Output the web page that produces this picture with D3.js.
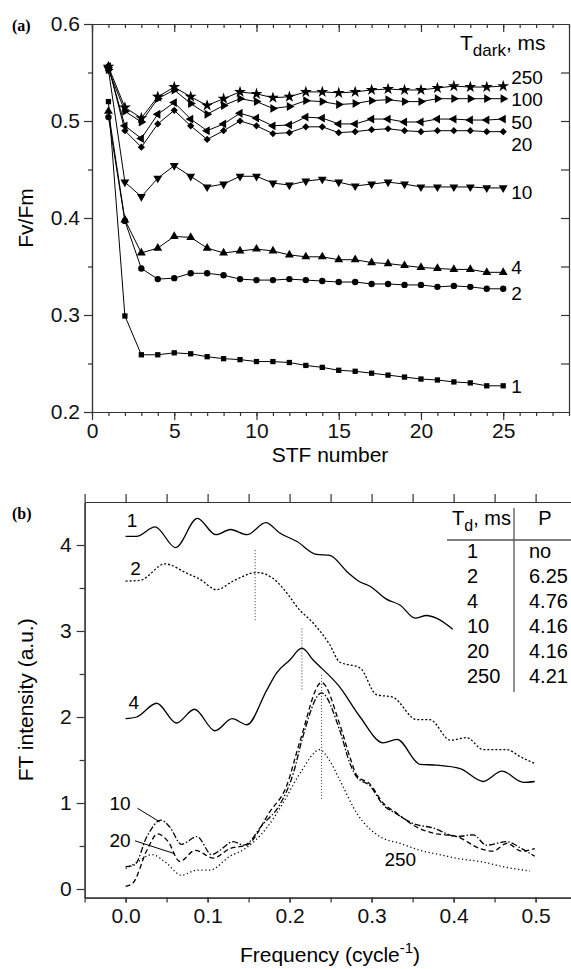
<!DOCTYPE html>
<html>
<head>
<meta charset="utf-8">
<script src="https://cdn.jsdelivr.net/npm/d3@7"></script>
<style>
  body { margin: 0; background: #fff; }
  svg { display: block; font-family: "Liberation Sans", Arial, sans-serif; }
</style>
</head>
<body>
<svg id="chart" width="571" height="969"></svg>
<script>
// ---------- panel (a): Fv/Fm vs STF number ----------
const stfNumbers = [1, 2, 3, 4, 5, 6, 7, 8, 9, 10, 11, 12, 13, 14, 15, 16, 17, 18, 19, 20, 21, 22, 23, 24, 25];
const darkTimes = ['1', '2', '4', '10', '20', '50', '100', '250'];
const fv1   = [0.520, 0.299, 0.259, 0.259, 0.261, 0.260, 0.257, 0.255, 0.254, 0.252, 0.252, 0.251, 0.248, 0.246, 0.243, 0.242, 0.240, 0.238, 0.236, 0.234, 0.233, 0.231, 0.230, 0.227, 0.227];
const fv2   = [0.504, 0.397, 0.348, 0.337, 0.338, 0.343, 0.343, 0.341, 0.337, 0.336, 0.336, 0.337, 0.336, 0.335, 0.334, 0.334, 0.332, 0.332, 0.331, 0.331, 0.329, 0.330, 0.329, 0.327, 0.327];
const fv4   = [0.510, 0.398, 0.364, 0.369, 0.381, 0.380, 0.369, 0.364, 0.366, 0.368, 0.366, 0.362, 0.360, 0.360, 0.357, 0.357, 0.354, 0.353, 0.351, 0.349, 0.348, 0.347, 0.347, 0.344, 0.344];
const fv10  = [0.553, 0.437, 0.422, 0.441, 0.454, 0.443, 0.432, 0.435, 0.443, 0.443, 0.436, 0.434, 0.438, 0.440, 0.437, 0.433, 0.435, 0.437, 0.435, 0.432, 0.432, 0.432, 0.432, 0.431, 0.431];
const fv20  = [0.557, 0.490, 0.473, 0.497, 0.511, 0.495, 0.481, 0.490, 0.500, 0.495, 0.487, 0.488, 0.494, 0.494, 0.488, 0.489, 0.491, 0.492, 0.490, 0.489, 0.490, 0.490, 0.490, 0.489, 0.489];
const fv50  = [0.556, 0.495, 0.482, 0.507, 0.519, 0.502, 0.490, 0.497, 0.508, 0.503, 0.495, 0.496, 0.504, 0.503, 0.497, 0.497, 0.502, 0.502, 0.499, 0.499, 0.502, 0.502, 0.501, 0.501, 0.502];
const fv100 = [0.553, 0.510, 0.499, 0.523, 0.532, 0.518, 0.507, 0.516, 0.523, 0.520, 0.513, 0.515, 0.521, 0.520, 0.517, 0.518, 0.521, 0.522, 0.520, 0.520, 0.523, 0.523, 0.523, 0.523, 0.523];
const fv250 = [0.556, 0.514, 0.503, 0.525, 0.535, 0.525, 0.516, 0.523, 0.530, 0.528, 0.524, 0.525, 0.530, 0.530, 0.529, 0.530, 0.532, 0.533, 0.532, 0.532, 0.534, 0.536, 0.535, 0.535, 0.536];
const xTicksA = [0, 5, 10, 15, 20, 25];
const yTicksA = [0.2, 0.3, 0.4, 0.5, 0.6];

// ---------- panel (b): FT spectra ----------
const freq1 = [0, 0.013, 0.036, 0.061, 0.0875, 0.110, 0.128, 0.148, 0.171, 0.188, 0.209, 0.233, 0.249, 0.270, 0.286, 0.298, 0.318, 0.335, 0.353, 0.367, 0.379, 0.399];
const ft1   = [4.10, 4.10, 4.21, 3.97, 4.31, 4.12, 4.18, 4.12, 4.26, 4.14, 4.04, 3.89, 3.88, 3.69, 3.57, 3.52, 3.37, 3.30, 3.15, 3.18, 3.15, 3.02];
const freq2 = [0, 0.018, 0.048, 0.075, 0.091, 0.111, 0.131, 0.160, 0.180, 0.200, 0.209, 0.229, 0.249, 0.261, 0.286, 0.306, 0.326, 0.355, 0.371, 0.396, 0.416, 0.436, 0.465, 0.481, 0.499];
const ft2   = [3.58, 3.59, 3.78, 3.67, 3.60, 3.48, 3.58, 3.68, 3.61, 3.40, 3.28, 3.09, 2.84, 2.64, 2.57, 2.26, 2.23, 1.97, 1.97, 1.73, 1.76, 1.62, 1.62, 1.54, 1.46];
const freq4 = [0, 0.0135, 0.038, 0.062, 0.084, 0.109, 0.130, 0.148, 0.172, 0.184, 0.200, 0.215, 0.229, 0.261, 0.286, 0.314, 0.331, 0.359, 0.379, 0.408, 0.436, 0.459, 0.485, 0.499];
const ft4   = [1.98, 2.00, 2.16, 1.93, 2.09, 1.84, 1.98, 1.91, 2.31, 2.51, 2.66, 2.80, 2.66, 2.35, 2.00, 1.70, 1.74, 1.45, 1.44, 1.40, 1.25, 1.37, 1.24, 1.25];
const freq10 = [0, 0.011, 0.026, 0.043, 0.054, 0.068, 0.087, 0.105, 0.115, 0.131, 0.144, 0.168, 0.188, 0.205, 0.215, 0.239, 0.261, 0.274, 0.282, 0.298, 0.314, 0.331, 0.351, 0.375, 0.404, 0.424, 0.440, 0.465, 0.483, 0.499];
const ft10   = [0.26, 0.28, 0.61, 0.80, 0.72, 0.52, 0.61, 0.40, 0.45, 0.55, 0.51, 0.76, 0.98, 1.36, 1.73, 2.28, 1.85, 1.45, 1.30, 1.20, 0.98, 0.87, 0.76, 0.71, 0.61, 0.63, 0.51, 0.55, 0.47, 0.38];
const freq20 = [0, 0.009, 0.026, 0.039, 0.052, 0.066, 0.085, 0.107, 0.127, 0.148, 0.176, 0.196, 0.213, 0.239, 0.261, 0.274, 0.282, 0.298, 0.314, 0.331, 0.351, 0.375, 0.404, 0.432, 0.448, 0.465, 0.483, 0.499];
const ft20   = [0.03, 0.07, 0.45, 0.64, 0.55, 0.32, 0.45, 0.36, 0.47, 0.51, 0.90, 1.19, 1.73, 2.40, 1.92, 1.52, 1.32, 1.22, 1.00, 0.88, 0.74, 0.65, 0.61, 0.47, 0.44, 0.53, 0.44, 0.47];
const freq250 = [0, 0.012, 0.032, 0.050, 0.068, 0.087, 0.103, 0.127, 0.146, 0.172, 0.192, 0.213, 0.237, 0.247, 0.261, 0.282, 0.310, 0.335, 0.359, 0.383, 0.408, 0.432, 0.465, 0.493];
const ft250   = [0.24, 0.30, 0.40, 0.30, 0.16, 0.22, 0.22, 0.38, 0.47, 0.71, 1.00, 1.35, 1.62, 1.52, 1.27, 0.88, 0.61, 0.53, 0.45, 0.40, 0.35, 0.32, 0.25, 0.21];
const peakFreqs  = [0.158, 0.215, 0.239];
const peakTops   = [3.94, 3.03, 2.49];
const peakBottoms = [3.11, 2.31, 1.03];
const xTicksB = [0, 0.1, 0.2, 0.3, 0.4, 0.5];
const yTicksB = [0, 1, 2, 3, 4];
const tableTd = ['1', '2', '4', '10', '20', '250'];
const tableP  = ['no', '6.25', '4.76', '4.16', '4.16', '4.21'];

const svg = d3.select('#chart');
const FONT = 21;      // ticks and axis titles
const LBL = 19;       // in-plot labels and table

// marker styles
const markerStyle = {
    '1':   { type: d3.symbolSquare,   size: 28, rotate: 0 },
    '2':   { type: d3.symbolCircle,   size: 32, rotate: 0 },
    '4':   { type: d3.symbolTriangle, size: 34, rotate: 0 },
    '10':  { type: d3.symbolTriangle, size: 34, rotate: 180 },
    '20':  { type: d3.symbolSquare,   size: 26, rotate: 45 },
    '50':  { type: d3.symbolTriangle, size: 34, rotate: -90 },
    '100': { type: d3.symbolTriangle, size: 34, rotate: 90 },
    '250': { type: d3.symbolStar,     size: 44, rotate: 0 }
};
// nudge of right-hand labels (px) so they do not collide
const labelNudgeA = { '1': 1, '2': 5, '4': -5, '10': 4, '20': 13, '50': 3, '100': 1, '250': -9 };

function styleAxis(g, showText) {
    g.attr('font-size', null).attr('font-family', null);
    g.selectAll('path.domain').attr('stroke', '#333').attr('stroke-width', 1.2);
    g.selectAll('.tick line').attr('stroke', '#333').attr('stroke-width', 1.2);
    g.selectAll('.tick text').attr('fill', '#111').style('font-size', FONT + 'px');
    if (!showText) g.selectAll('.tick text').remove();
}

// ================= Panel (a) =================
const xA = d3.scaleLinear().domain([0, 29]).range([92, 569]);
const yA = d3.scaleLinear().domain([0.2, 0.6]).range([412, 24]);

const axesA = svg.append('g').attr('class', 'axes-a');
// bottom
axesA.append('g').attr('transform', `translate(0,${yA(0.2)})`)
    .call(d3.axisBottom(xA).tickValues(d3.range(0, 30, 1)).tickSize(4).tickSizeOuter(0).tickFormat(''))
    .call(g => styleAxis(g, false));
axesA.append('g').attr('transform', `translate(0,${yA(0.2)})`)
    .call(d3.axisBottom(xA).tickValues(xTicksA).tickSize(8).tickPadding(3).tickSizeOuter(0).tickFormat(d3.format('d')))
    .call(g => styleAxis(g, true));
// top
axesA.append('g').attr('transform', `translate(0,${yA(0.6)})`)
    .call(d3.axisTop(xA).tickValues(d3.range(0, 30, 1)).tickSize(-4).tickSizeOuter(0).tickFormat(''))
    .call(g => styleAxis(g, false));
axesA.append('g').attr('transform', `translate(0,${yA(0.6)})`)
    .call(d3.axisTop(xA).tickValues(xTicksA).tickSize(-8).tickSizeOuter(0).tickFormat(''))
    .call(g => styleAxis(g, false));
// left
axesA.append('g').attr('transform', `translate(${xA(0)},0)`)
    .call(d3.axisLeft(yA).tickValues([0.25, 0.35, 0.45, 0.55]).tickSize(4).tickSizeOuter(0).tickFormat(''))
    .call(g => styleAxis(g, false));
axesA.append('g').attr('transform', `translate(${xA(0)},0)`)
    .call(d3.axisLeft(yA).tickValues(yTicksA).tickSize(8).tickPadding(4).tickSizeOuter(0).tickFormat(d3.format('.1f')))
    .call(g => styleAxis(g, true));
// right
axesA.append('g').attr('transform', `translate(${xA(29)},0)`)
    .call(d3.axisRight(yA).tickValues([0.25, 0.3, 0.35, 0.4, 0.45, 0.5, 0.55]).tickSize(-8).tickSizeOuter(0).tickFormat(''))
    .call(g => styleAxis(g, false));

const seriesA = [fv1, fv2, fv4, fv10, fv20, fv50, fv100, fv250].map((vals, i) => ({
    key: darkTimes[i],
    points: stfNumbers.map((s, j) => ({ x: s, y: vals[j] }))
}));

const lineA = d3.line().x(d => xA(d.x)).y(d => yA(d.y));
const gA = svg.append('g').attr('class', 'series-a');
gA.selectAll('path.line-a')
    .data(seriesA)
    .join('path')
        .attr('class', 'line-a')
        .attr('d', d => lineA(d.points))
        .attr('fill', 'none')
        .attr('stroke', '#000')
        .attr('stroke-width', 1);

seriesA.forEach(s => {
    const st = markerStyle[s.key];
    const sym = d3.symbol().type(st.type).size(st.size);
    gA.append('g').selectAll('path')
        .data(s.points)
        .join('path')
            .attr('d', sym)
            .attr('transform', d => `translate(${xA(d.x)},${yA(d.y)}) rotate(${st.rotate})`)
            .attr('fill', '#000');
    const last = s.points[s.points.length - 1];
    gA.append('text')
        .attr('x', xA(last.x) + 8)
        .attr('y', yA(last.y) + labelNudgeA[s.key])
        .attr('dy', '0.35em')
        .style('font-size', LBL + 'px')
        .text(s.key);
});

// legend header T_dark, ms
const hdrA = svg.append('text').attr('x', 460).attr('y', 50).style('font-size', FONT + 'px');
hdrA.append('tspan').text('T');
hdrA.append('tspan').attr('dy', 6).style('font-size', (FONT - 4) + 'px').text('dark');
hdrA.append('tspan').attr('dy', -6).text(', ms');

// axis titles
svg.append('text').attr('x', 330).attr('y', 462).attr('text-anchor', 'middle')
    .style('font-size', FONT + 'px').text('STF number');
svg.append('text').attr('transform', `translate(33,${(yA(0.2) + yA(0.6)) / 2}) rotate(-90)`)
    .attr('text-anchor', 'middle').style('font-size', FONT + 'px').text('Fv/Fm');
svg.append('text').attr('x', 12).attr('y', 31)
    .style('font-family', '"Liberation Serif", "Times New Roman", serif')
    .style('font-weight', 'bold').style('font-size', '16px').text('(a)');

// ================= Panel (b) =================
const xB = d3.scaleLinear().domain([-0.05, 0.55]).range([84.6, 576.6]);
const yB = d3.scaleLinear().domain([-0.1, 4.5]).range([897.6, 502]);
const stepTicks = d3.range(-0.05, 0.56, 0.05);

const axesB = svg.append('g').attr('class', 'axes-b');
axesB.append('g').attr('transform', `translate(0,${yB(-0.1)})`)
    .call(d3.axisBottom(xB).tickValues(stepTicks).tickSize(5).tickSizeOuter(0).tickFormat(''))
    .call(g => styleAxis(g, false));
axesB.append('g').attr('transform', `translate(0,${yB(-0.1)})`)
    .call(d3.axisBottom(xB).tickValues(xTicksB).tickSize(5).tickPadding(5).tickSizeOuter(0).tickFormat(d3.format('.1f')))
    .call(g => styleAxis(g, true));
axesB.append('g').attr('transform', `translate(0,${yB(4.5)})`)
    .call(d3.axisTop(xB).tickValues(stepTicks).tickSize(8).tickSizeOuter(0).tickFormat(''))
    .call(g => styleAxis(g, false));
axesB.append('g').attr('transform', `translate(${xB(-0.05)},0)`)
    .call(d3.axisLeft(yB).tickValues([0.5, 1.5, 2.5, 3.5]).tickSize(5).tickSizeOuter(0).tickFormat(''))
    .call(g => styleAxis(g, false));
axesB.append('g').attr('transform', `translate(${xB(-0.05)},0)`)
    .call(d3.axisLeft(yB).tickValues(yTicksB).tickSize(8).tickPadding(5).tickSizeOuter(0).tickFormat(d3.format('d')))
    .call(g => styleAxis(g, true));

const seriesB = [
    { key: '1',   f: freq1,   v: ft1,   dash: null },
    { key: '2',   f: freq2,   v: ft2,   dash: '2,2' },
    { key: '4',   f: freq4,   v: ft4,   dash: null },
    { key: '10',  f: freq10,  v: ft10,  dash: '6,2,1.5,2' },
    { key: '20',  f: freq20,  v: ft20,  dash: '5,3' },
    { key: '250', f: freq250, v: ft250, dash: '1.2,2.6' }
];
const lineB = d3.line().x(d => xB(d[0])).y(d => yB(d[1])).curve(d3.curveMonotoneX);
const gB = svg.append('g').attr('class', 'series-b');
gB.selectAll('path.line-b')
    .data(seriesB)
    .join('path')
        .attr('class', 'line-b')
        .attr('d', d => lineB(d.f.map((f, i) => [f, d.v[i]])))
        .attr('fill', 'none')
        .attr('stroke', '#000')
        .attr('stroke-width', 1.3)
        .attr('stroke-dasharray', d => d.dash);

// dotted peak markers
gB.selectAll('line.peak')
    .data(peakFreqs)
    .join('line')
        .attr('class', 'peak')
        .attr('x1', d => xB(d)).attr('x2', d => xB(d))
        .attr('y1', (d, i) => yB(peakTops[i]))
        .attr('y2', (d, i) => yB(peakBottoms[i]))
        .attr('stroke', '#333')
        .attr('stroke-width', 1)
        .attr('stroke-dasharray', '1,2');

// curve labels (positions in data units)
const labelsB = [
    { t: '1',   f: 0.008,  v: 4.29, anchor: 'middle' },
    { t: '2',   f: 0.012,  v: 3.73, anchor: 'middle' },
    { t: '4',   f: 0.010,  v: 2.17, anchor: 'middle' },
    { t: '10',  f: 0.006,  v: 1.00, anchor: 'end' },
    { t: '20',  f: 0.006,  v: 0.57, anchor: 'end' },
    { t: '250', f: 0.335,  v: 0.34, anchor: 'middle' }
];
gB.selectAll('text.curve-label')
    .data(labelsB)
    .join('text')
        .attr('class', 'curve-label')
        .attr('x', d => xB(d.f))
        .attr('y', d => yB(d.v))
        .attr('dy', '0.35em')
        .attr('text-anchor', d => d.anchor)
        .style('font-size', LBL + 'px')
        .text(d => d.t);
const leaders = [
    { f1: 0.0143, v1: 0.94, f2: 0.0417, v2: 0.78 },
    { f1: 0.0115, v1: 0.56, f2: 0.060,  v2: 0.41 }
];
gB.selectAll('line.leader')
    .data(leaders)
    .join('line')
        .attr('class', 'leader')
        .attr('x1', d => xB(d.f1)).attr('y1', d => yB(d.v1))
        .attr('x2', d => xB(d.f2)).attr('y2', d => yB(d.v2))
        .attr('stroke', '#000').attr('stroke-width', 1);

// table of periods
const table = svg.append('g').attr('class', 'table');
const hdrB = table.append('text').attr('x', 452).attr('y', 525).style('font-size', (LBL + 1) + 'px');
hdrB.append('tspan').text('T');
hdrB.append('tspan').attr('dy', 6).style('font-size', (LBL - 3) + 'px').text('d');
hdrB.append('tspan').attr('dy', -6).text(', ms');
table.append('text').attr('x', 545).attr('y', 525).attr('text-anchor', 'middle')
    .style('font-size', (LBL + 1) + 'px').text('P');
table.append('line').attr('x1', 447).attr('x2', 571).attr('y1', 540).attr('y2', 540)
    .attr('stroke', '#555').attr('stroke-width', 1.3);
table.append('line').attr('x1', 514).attr('x2', 514).attr('y1', 508).attr('y2', 692)
    .attr('stroke', '#555').attr('stroke-width', 1.3);
table.selectAll('text.td')
    .data(tableTd)
    .join('text')
        .attr('class', 'td')
        .attr('x', 467)
        .attr('y', (d, i) => 558 + i * 25)
        .style('font-size', (LBL + 1) + 'px')
        .text(d => d);
table.selectAll('text.pv')
    .data(tableP)
    .join('text')
        .attr('class', 'pv')
        .attr('x', 529)
        .attr('y', (d, i) => 558 + i * 25)
        .style('font-size', (LBL + 1) + 'px')
        .text(d => d);

// axis titles
const xt = svg.append('text').attr('x', 330).attr('y', 962).attr('text-anchor', 'middle')
    .style('font-size', FONT + 'px');
xt.append('tspan').text('Frequency (cycle');
xt.append('tspan').attr('dy', -9).style('font-size', (FONT - 6) + 'px').text('-1');
xt.append('tspan').attr('dy', 9).text(')');
svg.append('text').attr('transform', `translate(33,${(yB(-0.1) + yB(4.5)) / 2}) rotate(-90)`)
    .attr('text-anchor', 'middle').style('font-size', FONT + 'px').text('FT intensity (a.u.)');
svg.append('text').attr('x', 12).attr('y', 519)
    .style('font-family', '"Liberation Serif", "Times New Roman", serif')
    .style('font-weight', 'bold').style('font-size', '16px').text('(b)');
</script>
</body>
</html>
